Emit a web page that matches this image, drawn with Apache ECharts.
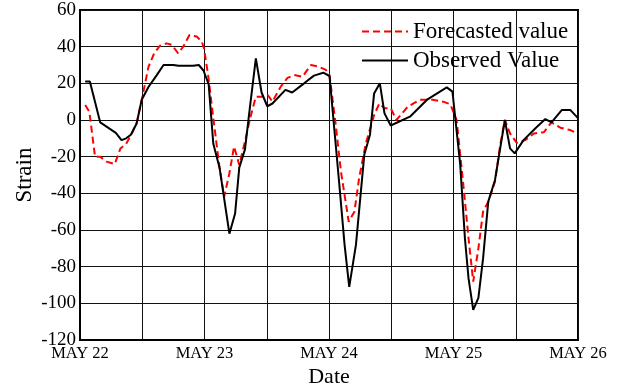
<!DOCTYPE html>
<html><head><meta charset="utf-8">
<script src="https://cdn.jsdelivr.net/npm/echarts@6/dist/echarts.min.js"></script>
<style>html,body{margin:0;padding:0;background:#fff}#c{width:621px;height:386px}</style>
</head><body><div id="c"></div>
<script>
var dayLabels = ['MAY 22','MAY 23','MAY 24','MAY 25','MAY 26'];
var obsHour = [1,1.9,3.9,6.9,8.0,8.9,9.8,10.9,11.9,13.2,14.8,16.1,18,19,21.8,22.9,23.8,24.8,25.7,26.9,28.8,29.9,30.7,31.8,32.8,33.9,35,36.1,37.1,39.6,40.9,43.2,45.1,46.9,48.1,50,51,51.9,53.2,54.8,55.9,56.7,57.8,58.7,59.9,63.6,67,70.7,71.8,73.3,74.2,74.9,75.8,76.8,77.7,78.7,80,81,81.9,82.9,83.8,85.5,87.8,89.7,90.9,92.9,94.5,96];
var obsVal = [21,21,-1.3,-7,-11,-10,-8,-2,11,18,24.5,30,30,29.6,29.6,30,27,19.5,-13,-26,-62,-51,-26,-16,8,33.6,15,7.5,9,16.4,15,20,24.2,25.8,24,-35.5,-68,-91,-68,-19,-8,14.5,20,3.6,-3,1.8,11.3,17.8,15.5,-24.5,-64.5,-86.4,-103.6,-97,-75.5,-44.5,-32.7,-15.5,0,-15.5,-18.2,-11,-4.5,0.5,-1.3,5.5,5.5,1];
var fcHour = [1,1.8,2.9,3.9,5.1,6.7,7.8,8.9,10,11,11.9,13.2,14.3,15.4,16.7,17.7,18.9,19.9,21.1,22.5,23.5,23.9,24.7,25.7,26.9,27.8,28.8,29.7,30.7,31.8,32.8,33.9,35,36.2,37.1,38.7,40,41.3,42.9,44.5,46.1,47.4,48.1,49.3,50.3,51.8,52.9,53.8,55.1,56.7,57.7,58.7,59.9,61,63.2,65.5,68,70,71.4,72.6,73.9,74.9,75.8,76.8,77.7,78.7,80,81,81.9,82.9,84.2,85.8,87.5,89.4,90.9,92.6,94.5,96];
var fcVal = [8.2,4.5,-20,-20,-22.7,-24,-15.5,-13,-7.3,-1,11,29,36.4,40.5,41.8,41,36.4,40,46.4,45.5,42.7,39,24.5,1,-26,-41.8,-29,-14.5,-24.5,-11.8,1,12.7,12.7,13.6,10,18.2,23,24.5,23.6,30,29,27.3,24.5,-2.7,-28,-55.5,-50,-31.8,-12.7,2.7,9,6.4,6.4,0,7.3,11,11,10,8.6,0,-35.5,-64.5,-88.2,-70,-50,-44.5,-33.6,-13.6,0,-7.3,-12.5,-11,-7.3,-6.7,-1.3,-4.2,-5.5,-7.5];

function zip(a,b){return a.map(function(x,i){return [x,b[i]];});}
var font = 'Liberation Serif';
var chart = echarts.init(document.getElementById('c'));
chart.setOption({
  animation:false,
  textStyle:{fontFamily:font,color:'#000'},
  grid:{left:80,right:43,top:10,bottom:46,show:true,borderColor:'#000',borderWidth:2,
        containLabel:false,outerBoundsMode:'none'},
  legend:{
    orient:'vertical',left:356,top:15,itemGap:6,itemWidth:46,itemHeight:22,
    itemStyle:{opacity:0},
    textStyle:{fontFamily:font,fontSize:23,color:'#000'},
    data:['Forecasted value','Observed Value']
  },
  xAxis:{
    type:'value',min:0,max:96,interval:12,
    name:'Date',nameLocation:'middle',nameGap:26,nameMoveOverlap:false,
    nameTextStyle:{fontFamily:font,fontSize:22,color:'#000'},
    axisLine:{show:true,onZero:false,lineStyle:{color:'#000',width:2}},
    axisTick:{show:false},
    splitLine:{show:true,lineStyle:{color:'#111',width:1}},
    axisLabel:{color:'#000',fontFamily:font,fontSize:16.5,margin:5,
      formatter:function(v){return v%24===0?dayLabels[v/24]:'';}}
  },
  yAxis:{
    type:'value',min:-120,max:60,interval:20,
    name:'Strain',nameLocation:'middle',nameGap:44,nameRotate:90,nameMoveOverlap:false,
    nameTextStyle:{fontFamily:font,fontSize:23,color:'#000'},
    axisLine:{show:true,onZero:false,lineStyle:{color:'#000',width:2}},
    axisTick:{show:false},
    splitLine:{show:true,lineStyle:{color:'#111',width:1}},
    axisLabel:{color:'#000',fontFamily:font,fontSize:19,margin:4}
  },
  series:[
    {name:'Forecasted value',type:'line',data:zip(fcHour,fcVal),symbol:'none',
     lineStyle:{color:'#ff0000',width:2,type:[7,4]},itemStyle:{color:'#ff0000'},z:3},
    {name:'Observed Value',type:'line',data:zip(obsHour,obsVal),symbol:'none',
     lineStyle:{color:'#000',width:2},itemStyle:{color:'#000'},z:4}
  ]
});
</script></body></html>
